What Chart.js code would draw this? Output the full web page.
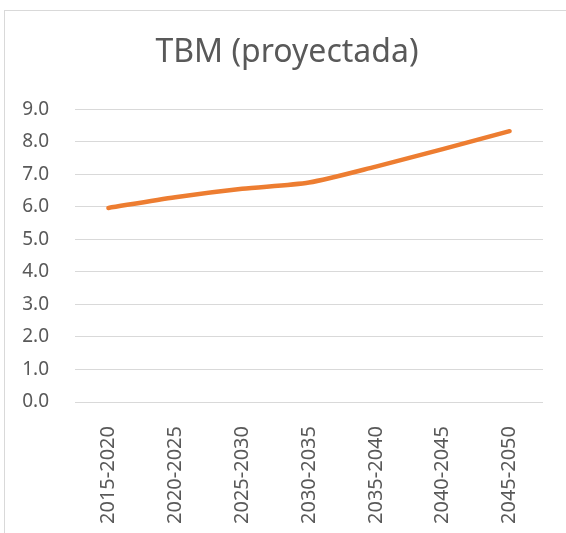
<!DOCTYPE html>
<html>
<head>
<meta charset="utf-8">
<script src="https://cdn.jsdelivr.net/npm/chart.js@4.4.1/dist/chart.umd.min.js"></script>
<style>
  html, body { margin: 0; padding: 0; background: #fff; overflow: hidden; }
  #frame { position: absolute; left: 4px; top: 10px; width: 700px; height: 700px;
           border-left: 1px solid #d9d9d9; border-top: 1px solid #d9d9d9; }
  #wrap { position: absolute; left: 0; top: 0; width: 566px; height: 533px; }
</style>
</head>
<body>
<div id="frame"></div>
<div id="wrap"><canvas id="tbm" width="566" height="533"></canvas></div>
<script>
// données
const periodes = ['2015-2020', '2020-2025', '2025-2030', '2030-2035', '2035-2040', '2040-2045', '2045-2050']
const tbm = [5.97, 6.30, 6.56, 6.75, 7.24, 7.78, 8.33]
const titre = 'TBM (proyectada)'

const GRIS = '#595959'
const FONT = "'Noto Sans', 'Open Sans', sans-serif"

// le cadre Excel dépasse à droite, donc le titre est centré un peu plus à droite
const decaleTitre = {
  id: 'decaleTitre',
  afterLayout(chart) {
    const t = chart.titleBlock
    if (t) { t.left = 31; t.right = 543 }
  }
}

const config = {
  type: 'line',
  data: {
    labels: periodes,
    datasets: [{
      label: 'TBM',
      data: tbm,
      borderColor: '#ED7D31',
      borderWidth: 4.5,
      borderCapStyle: 'round',
      borderJoinStyle: 'round',
      pointRadius: 0,
      tension: 0.25,
      fill: false
    }]
  },
  plugins: [decaleTitre],
  options: {
    responsive: false,
    animation: false,
    layout: { padding: { left: 0, right: 23, top: 0, bottom: 0 } },
    plugins: {
      legend: { display: false },
      tooltip: { enabled: false },
      title: {
        display: true,
        text: titre,
        color: GRIS,
        font: { family: FONT, size: 32, weight: 'normal' },
        padding: { top: 34, bottom: 37 }
      }
    },
    scales: {
      x: {
        offset: true,
        grid: { display: false },
        border: { display: false },
        ticks: {
          color: GRIS,
          font: { family: FONT, size: 20 },
          minRotation: 90,
          maxRotation: 90,
          padding: 16,
          autoSkip: false
        },
        afterFit: (scale) => { scale.height = 131 }
      },
      y: {
        min: 0,
        max: 9,
        grid: { color: '#d9d9d9', lineWidth: 1, drawTicks: false },
        border: { display: false },
        ticks: {
          stepSize: 1,
          color: GRIS,
          font: { family: FONT, size: 19 },
          padding: 26,
          callback: (v) => v.toFixed(1)
        },
        afterFit: (scale) => { scale.width = 75 }
      }
    }
  }
}

new Chart(document.getElementById('tbm'), config)
</script>
</body>
</html>
